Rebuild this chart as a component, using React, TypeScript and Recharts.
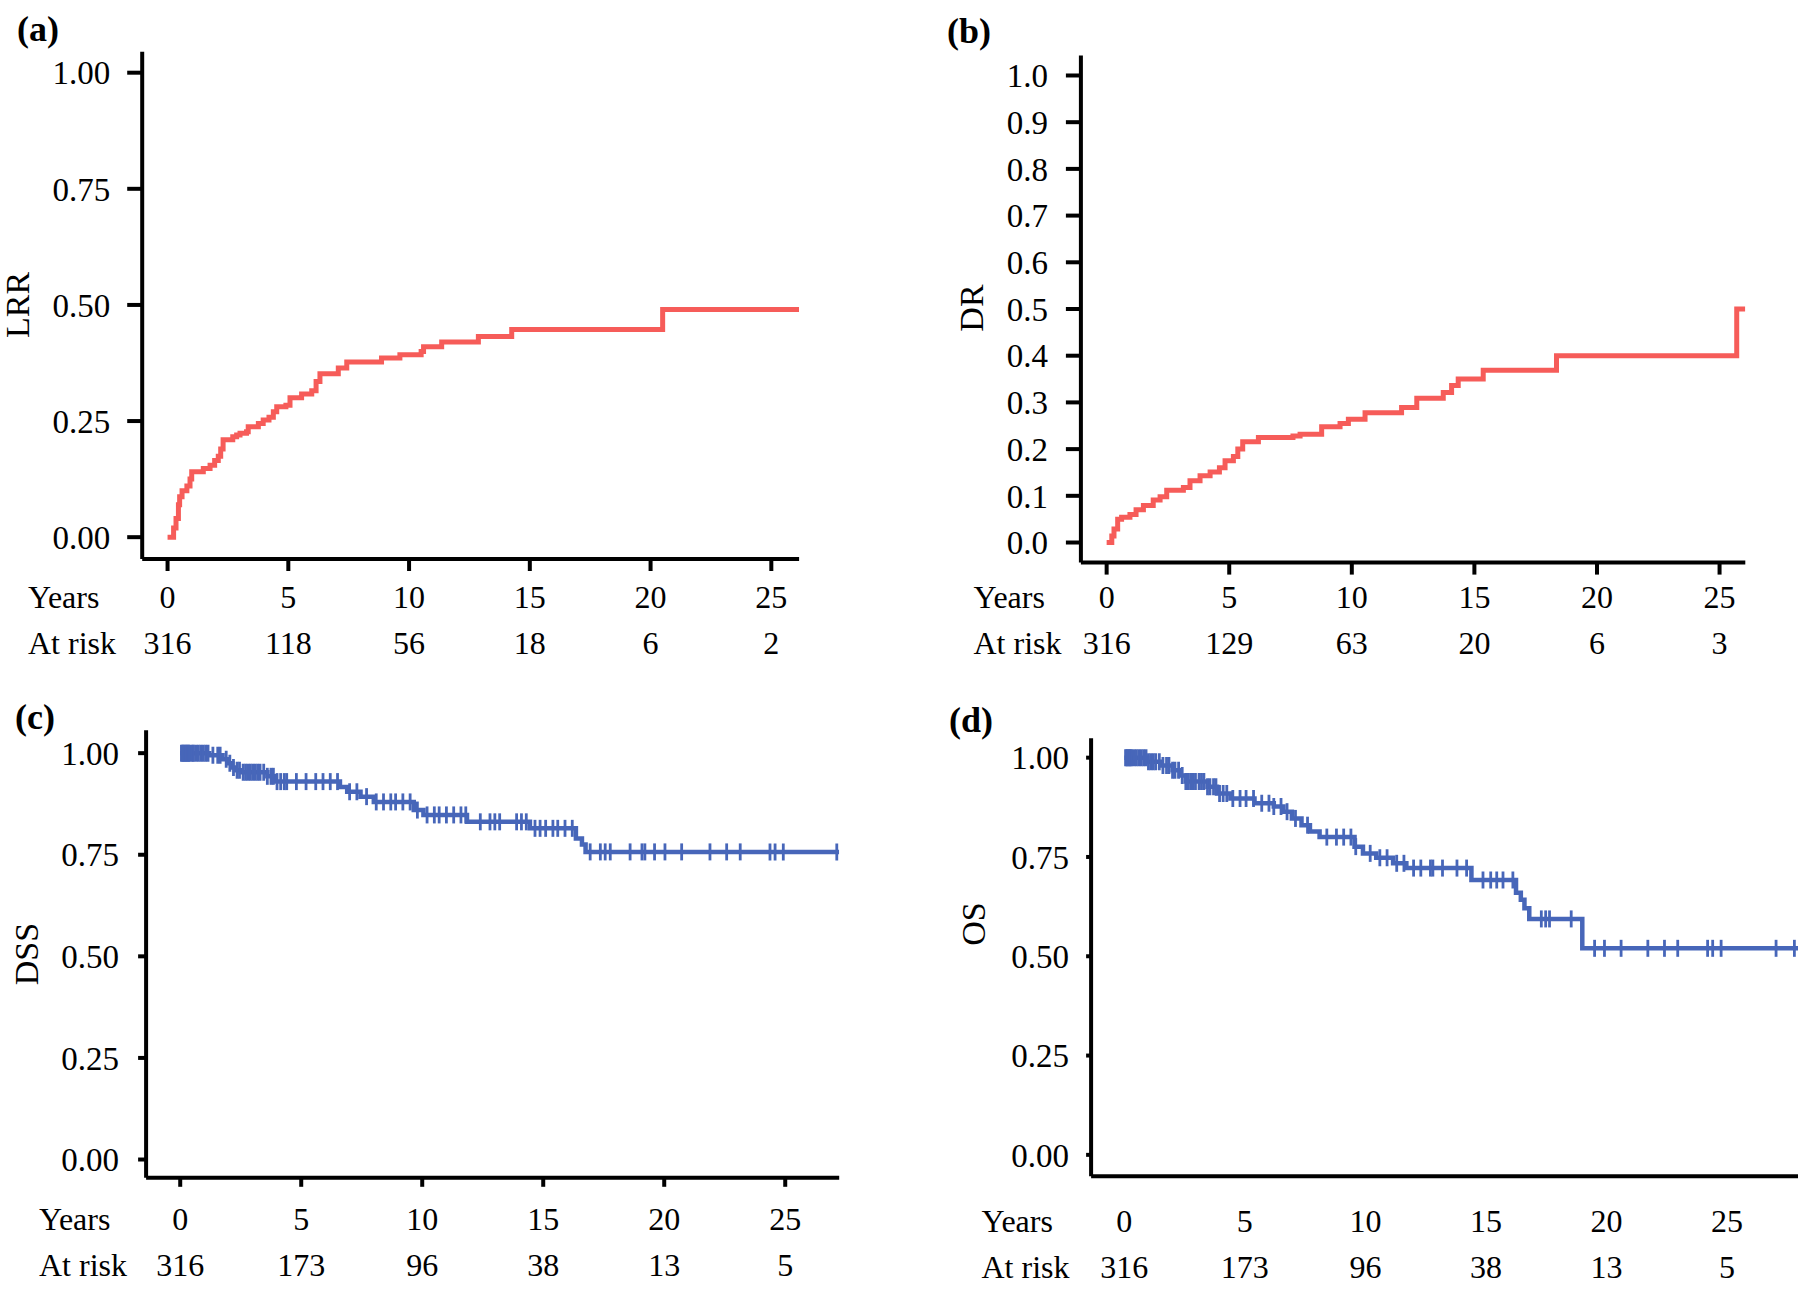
import { ComposedChart, Line, Scatter, XAxis, YAxis } from "recharts";

const FONT = '"Liberation Serif", "Times New Roman", serif';
const RED = "#f65c59";
const BLUE = "#4766b9";

const years = [0, 5, 10, 15, 20, 25];
const lrrAtRisk = [316, 118, 56, 18, 6, 2];
const drAtRisk = [316, 129, 63, 20, 6, 3];
const dssAtRisk = [316, 173, 96, 38, 13, 5];
const osAtRisk = [316, 173, 96, 38, 13, 5];

const quarterTicks = [0, 0.25, 0.5, 0.75, 1];
const tenthTicks = [0, 0.1, 0.2, 0.3, 0.4, 0.5, 0.6, 0.7, 0.8, 0.9, 1];

// [years, cumulative incidence / survival]
const lrrSteps: [number, number][] = [
  [0, 0], [0.25, 0.02], [0.35, 0.04], [0.45, 0.07], [0.5, 0.087], [0.6, 0.1],
  [0.8, 0.11], [0.93, 0.125], [1.0, 0.141], [1.48, 0.148], [1.76, 0.155],
  [1.95, 0.165], [2.1, 0.174], [2.2, 0.19], [2.3, 0.21], [2.7, 0.216],
  [2.86, 0.22], [3.0, 0.224], [3.27, 0.227], [3.34, 0.238], [3.76, 0.245],
  [3.96, 0.252], [4.2, 0.258], [4.38, 0.27], [4.52, 0.281], [4.9, 0.284],
  [5.07, 0.3], [5.55, 0.308], [5.97, 0.315], [6.15, 0.335], [6.31, 0.352],
  [7.07, 0.364], [7.42, 0.377], [8.86, 0.386], [9.62, 0.393], [10.5, 0.4],
  [10.6, 0.41], [11.35, 0.42], [12.87, 0.432], [14.25, 0.447], [20.5, 0.49],
  [26.15, 0.49],
];

const drSteps: [number, number][] = [
  [0, 0], [0.21, 0.014], [0.3, 0.029], [0.45, 0.05], [0.61, 0.054],
  [0.95, 0.06], [1.2, 0.07], [1.5, 0.079], [1.9, 0.091], [2.18, 0.098],
  [2.45, 0.112], [3.13, 0.118], [3.4, 0.132], [3.81, 0.143], [4.22, 0.151],
  [4.6, 0.16], [4.83, 0.175], [5.17, 0.184], [5.35, 0.2], [5.55, 0.216],
  [6.19, 0.225], [7.6, 0.228], [7.89, 0.232], [8.77, 0.248], [9.52, 0.255],
  [9.86, 0.264], [10.54, 0.278], [12.03, 0.289], [12.65, 0.309], [13.73, 0.321],
  [14.07, 0.336], [14.34, 0.35], [15.36, 0.369], [18.35, 0.4], [25.7, 0.5],
  [26.05, 0.5],
];

const dssSteps: [number, number][] = [
  [0, 1.0], [1.2, 0.995], [1.75, 0.985], [2.0, 0.975], [2.15, 0.965],
  [2.3, 0.958], [2.5, 0.953], [3.6, 0.943], [3.9, 0.93], [6.6, 0.917],
  [6.9, 0.905], [7.45, 0.893], [8.0, 0.88], [9.65, 0.86], [10.05, 0.848],
  [11.85, 0.831], [14.45, 0.815], [16.35, 0.79], [16.6, 0.775], [16.75, 0.757],
  [27.23, 0.757],
];

const osSteps: [number, number][] = [
  [0, 1.0], [0.95, 0.99], [1.5, 0.98], [2.0, 0.968], [2.3, 0.955],
  [2.55, 0.94], [3.45, 0.927], [3.85, 0.91], [4.4, 0.897], [5.4, 0.885],
  [6.2, 0.877], [6.6, 0.864], [6.95, 0.847], [7.35, 0.83], [7.7, 0.814],
  [8.1, 0.8], [9.55, 0.776], [9.9, 0.759], [10.45, 0.748], [11.15, 0.734],
  [11.7, 0.722], [14.4, 0.692], [16.25, 0.66], [16.45, 0.642], [16.6, 0.621],
  [16.8, 0.594], [19.0, 0.52], [27.95, 0.52],
];

const dssCensored = [
  0.05, 0.1, 0.15, 0.2, 0.25, 0.3, 0.35, 0.4, 0.5, 0.55, 0.65, 0.75, 0.85, 0.95,
  1.05, 1.15, 1.35, 1.55, 1.65, 1.9, 2.05, 2.2, 2.35, 2.45, 2.6, 2.7, 2.8, 2.9,
  3.0, 3.1, 3.2, 3.3, 3.45, 3.6, 3.75, 3.85, 4.0, 4.15, 4.3, 4.4, 4.8, 5.2, 5.6,
  5.9, 6.2, 6.5, 7.0, 7.3, 7.7, 8.1, 8.4, 8.7, 8.9, 9.2, 9.5, 9.8, 10.2, 10.5,
  10.7, 11.0, 11.3, 11.6, 11.8, 12.4, 12.8, 13.0, 13.2, 13.9, 14.1, 14.3, 14.66,
  14.87, 15.1, 15.4, 15.6, 15.9, 16.2, 16.94, 17.36, 17.56, 17.77, 18.59, 19.08,
  19.2, 19.6, 20.03, 20.72, 21.89, 22.58, 23.14, 24.37, 24.58, 24.92, 27.13,
];

const osCensored = [
  0.05, 0.1, 0.15, 0.2, 0.25, 0.3, 0.4, 0.5, 0.6, 0.7, 0.8, 0.9, 1.0, 1.1, 1.2,
  1.3, 1.45, 1.6, 1.75, 1.85, 2.0, 2.1, 2.25, 2.4, 2.55, 2.65, 2.75, 2.85, 2.95,
  3.1, 3.2, 3.3, 3.45, 3.55, 3.7, 3.8, 3.95, 4.1, 4.25, 4.5, 4.8, 5.05, 5.36,
  5.7, 6.0, 6.2, 6.5, 6.75, 7.1, 7.6, 8.4, 8.8, 9.1, 9.4, 9.6, 10.2, 10.6, 10.9,
  11.3, 11.6, 12.0, 12.3, 12.7, 12.8, 13.2, 13.8, 14.2, 14.88, 15.2, 15.45,
  15.71, 16.12, 17.3, 17.48, 17.64, 18.54, 19.51, 19.92, 20.61, 21.72, 22.41,
  22.96, 24.2, 24.41, 24.76, 27.04, 27.8,
];

const toRows = (steps: [number, number][]) => steps.map(([t, v]) => ({ t, v }));

const levelAt = (steps: [number, number][], t: number) => {
  let v = steps[0][1];
  for (const [s, val] of steps) if (s <= t) v = val;
  return v;
};

const censorRows = (times: number[], steps: [number, number][]) =>
  times.map((t) => ({ t, v: levelAt(steps, t) }));

const CensorMark = (props: any) => (
  <line
    x1={props.cx}
    x2={props.cx}
    y1={props.cy - 8.5}
    y2={props.cy + 8.5}
    stroke={BLUE}
    strokeWidth={2.8}
  />
);

type PanelProps = {
  left: number;
  top: number;
  width: number;
  height: number;
  plot: { x0: number; x1: number; y0: number; y1: number };
  xDomain: [number, number];
  yDomain: [number, number];
  yTicks: number[];
  yDigits: number;
  steps: [number, number][];
  censored?: number[];
  color: string;
  atRisk: number[];
  yearsY: number;
  riskY: number;
  yTickSize: number;
  yTickMargin: number;
  xTickSize: number;
};

function KMPanel(p: PanelProps) {
  const axis = { stroke: "#000", strokeWidth: 4 };
  const riskTick = (t: any) => {
    const i = years.indexOf(t.payload.value);
    return (
      <g>
        <text x={t.x} y={p.yearsY - p.top} textAnchor="middle" dominantBaseline="central"
          fontFamily={FONT} fontSize={32} fill="#000">{t.payload.value}</text>
        <text x={t.x} y={p.riskY - p.top} textAnchor="middle" dominantBaseline="central"
          fontFamily={FONT} fontSize={32} fill="#000">{p.atRisk[i]}</text>
      </g>
    );
  };
  return (
    <div style={{ position: "absolute", left: p.left, top: p.top, width: p.width, height: p.height }}>
      <ComposedChart
        width={p.width}
        height={p.height}
        margin={{ top: p.plot.y0 - p.top, right: p.left + p.width - p.plot.x1, bottom: 0, left: 0 }}
      >
        <XAxis
          type="number"
          dataKey="t"
          domain={p.xDomain}
          ticks={years}
          interval={0}
          allowDataOverflow
          height={p.top + p.height - p.plot.y1}
          axisLine={axis}
          tickLine={p.xTickSize ? axis : false}
          tickSize={p.xTickSize}
          tick={riskTick}
        />
        <YAxis
          type="number"
          dataKey="v"
          domain={p.yDomain}
          ticks={p.yTicks}
          interval={0}
          allowDataOverflow
          width={p.plot.x0 - p.left}
          axisLine={axis}
          tickLine={axis}
          tickSize={p.yTickSize}
          tickMargin={p.yTickMargin}
          tick={{ fill: "#000", fontSize: 33, fontFamily: FONT }}
          tickFormatter={(v: number) => v.toFixed(p.yDigits)}
        />
        <Line
          data={toRows(p.steps)}
          dataKey="v"
          type="stepAfter"
          stroke={p.color}
          strokeWidth={p.censored ? 4.5 : 5}
          dot={false}
          activeDot={false}
          isAnimationActive={false}
        />
        {p.censored && (
          <Scatter
            data={censorRows(p.censored, p.steps)}
            dataKey="v"
            shape={CensorMark}
            isAnimationActive={false}
          />
        )}
      </ComposedChart>
    </div>
  );
}

const panelLetters = [
  { text: "(a)", x: 17, y: 29 },
  { text: "(b)", x: 947, y: 31 },
  { text: "(c)", x: 15, y: 717 },
  { text: "(d)", x: 949, y: 720 },
];
const axisTitles = [
  { text: "LRR", x: 17, y: 305 },
  { text: "DR", x: 971, y: 308 },
  { text: "DSS", x: 26, y: 954 },
  { text: "OS", x: 973, y: 924 },
];
const rowLabels = [
  { x: 28, years: 597, risk: 643 },
  { x: 973.5, years: 597, risk: 643 },
  { x: 39, years: 1219, risk: 1265 },
  { x: 981.5, years: 1220.5, risk: 1266.5 },
];

export default function App() {
  return (
    <div style={{ position: "absolute", left: 0, top: 0, width: 1800, height: 1289, overflow: "hidden", background: "#fff" }}>
      <KMPanel
        left={0} top={0} width={820} height={680}
        plot={{ x0: 142.2, x1: 799.1, y0: 51.8, y1: 559.0 }}
        xDomain={[-1.05, 26.15]} yDomain={[-0.047, 1.045]}
        yTicks={quarterTicks} yDigits={2}
        steps={lrrSteps} color={RED} atRisk={lrrAtRisk}
        yearsY={597} riskY={643} yTickSize={15} yTickMargin={17} xTickSize={12}
      />
      <KMPanel
        left={900} top={0} width={900} height={680}
        plot={{ x0: 1080.9, x1: 1745.3, y0: 55.4, y1: 562.6 }}
        xDomain={[-1.05, 26.05]} yDomain={[-0.043, 1.043]}
        yTicks={tenthTicks} yDigits={1}
        steps={drSteps} color={RED} atRisk={drAtRisk}
        yearsY={597} riskY={643} yTickSize={15} yTickMargin={18} xTickSize={12}
      />
      <KMPanel
        left={0} top={690} width={880} height={599}
        plot={{ x0: 146.1, x1: 839.2, y0: 730.2, y1: 1177.8 }}
        xDomain={[-1.41, 27.23]} yDomain={[-0.045, 1.0565]}
        yTicks={quarterTicks} yDigits={2}
        steps={dssSteps} censored={dssCensored} color={BLUE} atRisk={dssAtRisk}
        yearsY={1219} riskY={1265} yTickSize={8} yTickMargin={19} xTickSize={9}
      />
      <KMPanel
        left={900} top={690} width={900} height={599}
        plot={{ x0: 1091.1, x1: 1798.0, y0: 738.2, y1: 1176.3 }}
        xDomain={[-1.38, 27.95]} yDomain={[-0.054, 1.049]}
        yTicks={quarterTicks} yDigits={2}
        steps={osSteps} censored={osCensored} color={BLUE} atRisk={osAtRisk}
        yearsY={1220.5} riskY={1266.5} yTickSize={5} yTickMargin={17} xTickSize={0}
      />
      <svg width={1800} height={1289} style={{ position: "absolute", left: 0, top: 0, pointerEvents: "none" }}>
        {panelLetters.map((l) => (
          <text key={l.text} x={l.x} y={l.y} dominantBaseline="central" fontFamily={FONT}
            fontSize={36} fontWeight="bold" fill="#000">{l.text}</text>
        ))}
        {axisTitles.map((a) => (
          <text key={a.text} x={a.x} y={a.y} transform={`rotate(-90 ${a.x} ${a.y})`} textAnchor="middle"
            dominantBaseline="central" fontFamily={FONT} fontSize={34} fill="#000">{a.text}</text>
        ))}
        {rowLabels.map((r, i) => (
          <g key={i}>
            <text x={r.x} y={r.years} dominantBaseline="central" fontFamily={FONT} fontSize={32} fill="#000">Years</text>
            <text x={r.x} y={r.risk} dominantBaseline="central" fontFamily={FONT} fontSize={32} fill="#000">At risk</text>
          </g>
        ))}
      </svg>
    </div>
  );
}
